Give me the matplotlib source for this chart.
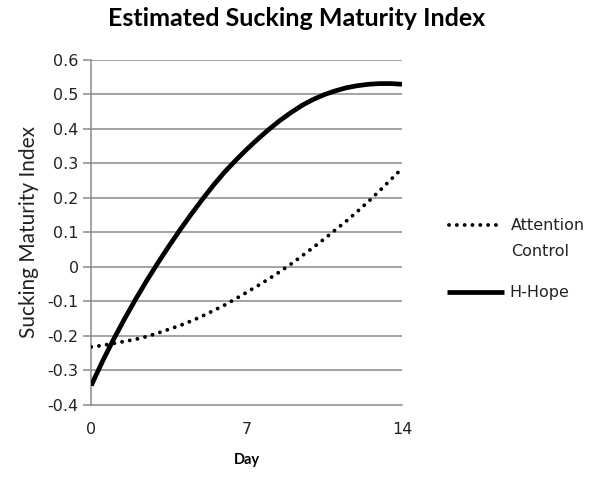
import matplotlib
matplotlib.use("Agg")
import matplotlib.pyplot as plt
from matplotlib.lines import Line2D

days = [0, 0.5, 1, 1.5, 2, 2.5, 3, 3.5, 4, 4.5, 5, 5.5, 6, 6.5, 7,
        7.5, 8, 8.5, 9, 9.5, 10, 10.5, 11, 11.5, 12, 12.5, 13, 13.5, 14]
attention_control = [-0.232, -0.228, -0.222, -0.216, -0.210, -0.202, -0.192, -0.181,
                     -0.170, -0.157, -0.143, -0.127, -0.111, -0.093, -0.074, -0.055,
                     -0.035, -0.014, 0.008, 0.032, 0.056, 0.081, 0.107, 0.133,
                     0.161, 0.190, 0.221, 0.253, 0.285]
h_hope = [-0.344, -0.275, -0.211, -0.151, -0.094, -0.040, 0.011, 0.060,
          0.107, 0.152, 0.195, 0.236, 0.274, 0.308, 0.340, 0.370,
          0.398, 0.424, 0.447, 0.468, 0.485, 0.499, 0.510, 0.519,
          0.525, 0.529, 0.531, 0.531, 0.529]
series_names = ["Attention\nControl", "H-Hope"]
y_ticks = [-0.4, -0.3, -0.2, -0.1, 0, 0.1, 0.2, 0.3, 0.4, 0.5, 0.6]
y_tick_labels = ["-0.4", "-0.3", "-0.2", "-0.1", "0", "0.1", "0.2", "0.3", "0.4", "0.5", "0.6"]
x_ticks = [0, 7, 14]
x_tick_labels = ["0", "7", "14"]

fig = plt.figure(figsize=(6.0, 4.82), dpi=100)
ax = fig.add_axes([0.152, 0.160, 0.518, 0.716])

grid_c = "#8a8a8a"
for y in y_ticks[1:]:
    ax.axhline(y, color=grid_c, lw=1.1, zorder=1)

dot_style = dict(color="black", lw=2.8, linestyle=(0, (0.01, 2.0)), dash_capstyle="round")
solid_style = dict(color="black", lw=3.4, solid_capstyle="butt", solid_joinstyle="round")

ax.plot(days, attention_control, zorder=3, **dot_style)
ax.plot(days, h_hope, zorder=4, **solid_style)

ax.set_xlim(0, 14)
ax.set_ylim(-0.4, 0.6)
ax.set_yticks(y_ticks)
ax.set_yticklabels(y_tick_labels, fontsize=11.5, family="DejaVu Sans", color="#222222")
ax.set_xticks(x_ticks)
ax.set_xticklabels(x_tick_labels, fontsize=11.5, family="DejaVu Sans", color="#222222")
ax.tick_params(axis="y", length=6, width=1.1, color=grid_c, pad=3)
ax.tick_params(axis="x", length=0, pad=12)

for s in ["top", "right"]:
    ax.spines[s].set_visible(False)
for s in ["left", "bottom"]:
    ax.spines[s].set_color(grid_c)
    ax.spines[s].set_linewidth(1.1)

ax.set_ylabel("Sucking Maturity Index", fontsize=15, family="Lato", color="#222222", labelpad=6)
ax.set_xlabel("Day", fontsize=10.5, family="Lato", fontweight="bold", labelpad=12)

fig.text(0.495, 0.962, "Estimated Sucking Maturity Index", ha="center", va="center",
         fontsize=18, family="Lato", fontweight="bold")

# legend (manual layout to match reference)
W, H = 600.0, 482.0
fig.add_artist(Line2D([449 / W, 502 / W], [1 - 225 / H, 1 - 225 / H],
                      transform=fig.transFigure, **dot_style))
fig.add_artist(Line2D([447 / W, 504 / W], [1 - 292 / H, 1 - 292 / H],
                      transform=fig.transFigure, **solid_style))
first, second = series_names[0].split("\n")
fig.text(511 / W, 1 - 225 / H, first, ha="left", va="center",
         fontsize=11.5, family="DejaVu Sans", color="#222222")
fig.text(511 / W, 1 - 252 / H, second, ha="left", va="center",
         fontsize=11.5, family="DejaVu Sans", color="#222222")
fig.text(509 / W, 1 - 292 / H, series_names[1], ha="left", va="center",
         fontsize=11.5, family="DejaVu Sans", color="#222222")

fig.savefig("out.png", dpi=100)
